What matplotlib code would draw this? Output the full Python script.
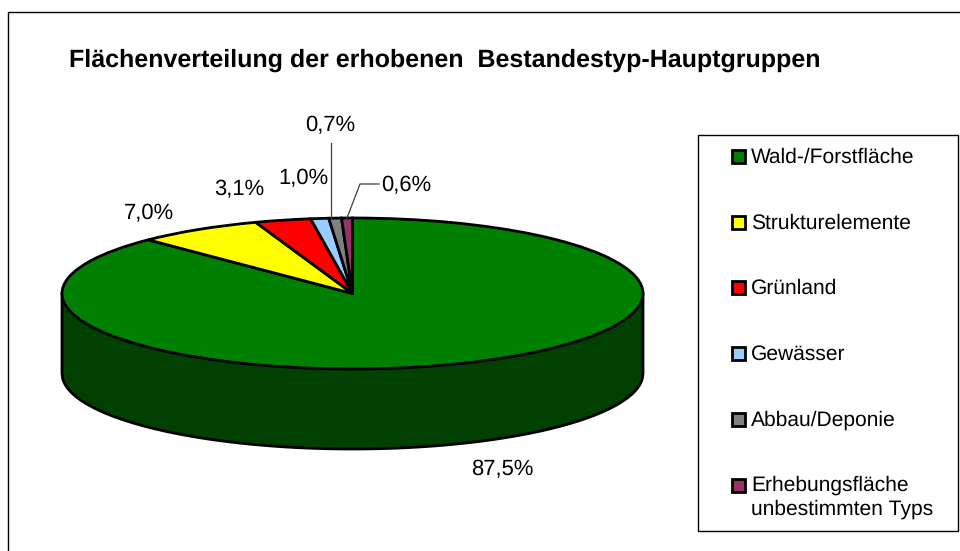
import numpy as np
import matplotlib
matplotlib.use("Agg")
import matplotlib.pyplot as plt
from matplotlib.patches import Rectangle

plt.rcParams['font.family'] = ['Liberation Sans', 'DejaVu Sans']
plt.rcParams['text.hinting'] = 'no_hinting'
plt.rcParams['text.hinting_factor'] = 1

categories = ["Wald-/Forstfläche", "Strukturelemente", "Grünland", "Gewässer",
              "Abbau/Deponie", "Erhebungsfläche\nunbestimmten Typs"]
values = [87.5, 7.0, 3.1, 1.0, 0.7, 0.6]
value_labels = ["87,5%", "7,0%", "3,1%", "1,0%", "0,7%", "0,6%"]
colors = ["#008000", "#FFFF00", "#FF0000", "#99CCFF", "#808080", "#993366"]
title = "Flächenverteilung der erhobenen  Bestandestyp-Hauptgruppen"

W, H = 960, 551
fig = plt.figure(figsize=(W / 100, H / 100), dpi=100, facecolor="white")

# Pixel overlay for frame, text and legend
bg = fig.add_axes([0, 0, 1, 1], zorder=0)
bg.set_xlim(0, W)
bg.set_ylim(H, 0)
bg.axis("off")
bg.add_patch(Rectangle((8, 12), 970, 560, fc="white", ec="black", lw=1.0, clip_on=True))

# Pie axes: ellipse 62..643 x, 218..369 y, extruded by 80 px
cx0, cx1, cy0, cy1 = 62, 643, 218, 369
depth_px = 80
ax = fig.add_axes([cx0 / W, 1 - (cy1 + depth_px) / H, (cx1 - cx0) / W,
                   (cy1 - cy0 + depth_px) / H], zorder=1)
depth = depth_px / ((cy1 - cy0) / 2)
x = np.linspace(-1, 1, 800)
low = -np.sqrt(np.clip(1 - x ** 2, 0, 1))
ax.fill_between(x, low, low - depth, color="#004000", lw=0, zorder=3)
ax.plot(np.r_[-1, x, 1], np.r_[0, low - depth, 0], color="black", lw=2, zorder=3.2,
        solid_joinstyle="round")
wedges, _ = ax.pie(values, colors=colors, startangle=90, counterclock=False, radius=1,
                   wedgeprops=dict(edgecolor="black", linewidth=2, zorder=4))
ax.set_aspect("auto")
ax.set_xlim(-1, 1)
ax.set_ylim(-1 - depth, 1)
ax.patch.set_alpha(0)
ax.axis("off")
for artist in ax.get_children():
    artist.set_clip_on(False)

# Value labels
fs = 16.1
lab_pos = [(502, 469), (149, 213), (239, 189.5), (303, 178.5), (330, 125.5), (406, 186)]
for s, (px, py) in zip(value_labels, lab_pos):
    bg.text(px, py, s, ha="center", va="center", fontsize=fs, color="black", zorder=5)

over = fig.add_axes([0, 0, 1, 1], zorder=2)
over.set_xlim(0, W)
over.set_ylim(H, 0)
over.axis("off")
over.plot([331, 331], [143, 218], color="#404040", lw=0.9)
over.plot([347, 360, 379], [218, 184, 184], color="#404040", lw=0.9)

bg.text(69, 60, title, fontsize=18, fontweight="bold", ha="left", va="center", color="black")

# Legend box
bg.add_patch(Rectangle((698, 135), 260, 396, fc="white", ec="black", lw=1.0, zorder=2))
leg_y = [156, 222, 287, 353, 419, 485]
for y, c, s in zip(leg_y, colors, categories):
    bg.add_patch(Rectangle((732, y - 6), 13, 13, fc=c, ec="black", lw=2, zorder=3))
    multi = "\n" in s
    bg.text(751, y - 10 if multi else y + 1, s, fontsize=14.9, ha="left",
            va="top" if multi else "center", linespacing=1.3, color="black", zorder=3)

fig.savefig("out.png", dpi=100)
